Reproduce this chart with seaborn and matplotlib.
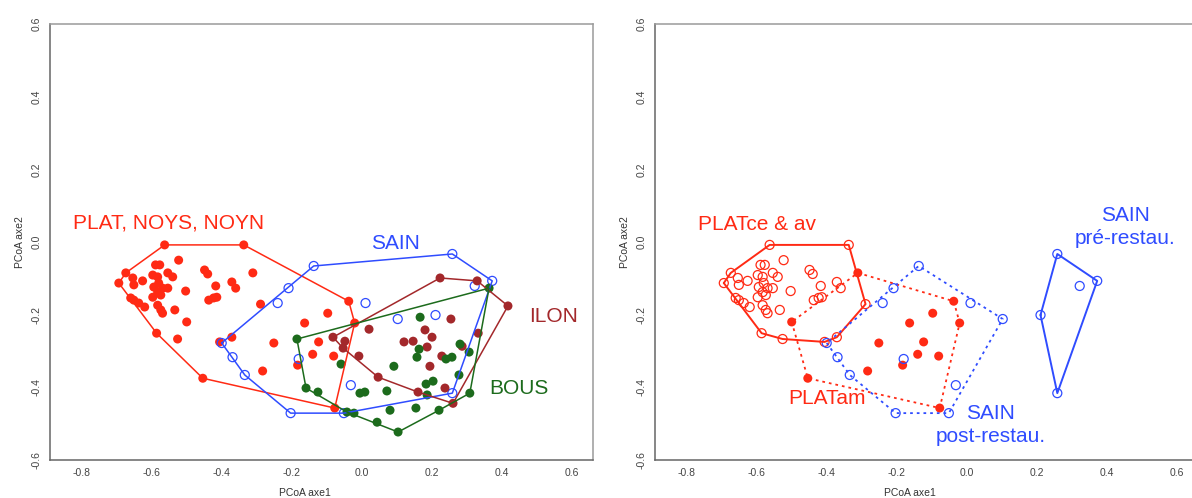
"""
PCoA ordination of sampling stations: convex hulls per group (left) and
restoration state (right).
"""

import numpy as np
import matplotlib

matplotlib.use("Agg")
import matplotlib.pyplot as plt
import seaborn as sns

# PCoA coordinates (axe1, axe2)
plat_ce_av_x = [-0.563, -0.337, -0.289, -0.371, -0.406, -0.526, -0.586, -0.694, -0.674,
                -0.589, -0.577, -0.523, -0.654, -0.626, -0.651, -0.597, -0.583, -0.554,
                -0.540, -0.594, -0.580, -0.569, -0.583, -0.554, -0.597, -0.574, -0.660,
                -0.651, -0.637, -0.620, -0.583, -0.574, -0.569, -0.534, -0.503, -0.449,
                -0.440, -0.417, -0.423, -0.414, -0.437, -0.371, -0.360]
plat_ce_av_y = [-0.008, -0.008, -0.171, -0.262, -0.275, -0.267, -0.251, -0.113, -0.085,
                -0.063, -0.063, -0.050, -0.099, -0.107, -0.118, -0.091, -0.096, -0.085,
                -0.096, -0.124, -0.113, -0.127, -0.138, -0.127, -0.152, -0.146, -0.154,
                -0.160, -0.168, -0.179, -0.174, -0.187, -0.196, -0.187, -0.135, -0.077,
                -0.088, -0.121, -0.154, -0.152, -0.160, -0.110, -0.127]

plat_am_x = [-0.311, -0.500, -0.454, -0.251, -0.283, -0.037, -0.020, -0.097, -0.163,
             -0.123, -0.140, -0.080, -0.183, -0.077]
plat_am_y = [-0.085, -0.220, -0.375, -0.278, -0.355, -0.163, -0.223, -0.196, -0.223,
             -0.275, -0.309, -0.314, -0.339, -0.457]

sain_post_x = [-0.137, -0.209, -0.240, 0.011, 0.103, -0.031, -0.051, -0.203, -0.180,
               -0.400, -0.369, -0.334]
sain_post_y = [-0.066, -0.127, -0.168, -0.168, -0.212, -0.394, -0.471, -0.471, -0.322,
               -0.278, -0.317, -0.366]

sain_pre_x = [0.259, 0.373, 0.323, 0.211, 0.259]
sain_pre_y = [-0.033, -0.107, -0.121, -0.201, -0.416]

ilon_x = [0.224, 0.330, 0.418, 0.261, 0.161, 0.047, -0.082, -0.048, -0.053, -0.008, 0.021,
          0.121, 0.147, 0.181, 0.201, 0.187, 0.255, 0.333, 0.229, 0.195, 0.238, 0.287]
ilon_y = [-0.099, -0.107, -0.176, -0.444, -0.413, -0.372, -0.262, -0.273, -0.292, -0.314,
          -0.240, -0.275, -0.273, -0.242, -0.262, -0.289, -0.212, -0.251, -0.314, -0.342,
          -0.402, -0.287]

bous_x = [-0.185, 0.364, 0.309, 0.221, 0.104, 0.044, -0.042, -0.022, -0.159, -0.125, -0.059,
          0.167, 0.092, 0.164, 0.158, 0.281, 0.307, 0.241, 0.258, 0.278, 0.184, 0.204, 0.187,
          -0.005, 0.009, 0.072, 0.081, 0.155]
bous_y = [-0.267, -0.127, -0.416, -0.463, -0.523, -0.496, -0.468, -0.471, -0.402, -0.413,
          -0.336, -0.207, -0.342, -0.295, -0.317, -0.281, -0.303, -0.322, -0.317, -0.366,
          -0.391, -0.383, -0.421, -0.416, -0.413, -0.410, -0.463, -0.457]

axis_ticks = [-0.8, -0.6, -0.4, -0.2, 0.0, 0.2, 0.4, 0.6]

RED = "#ff2a14"
BLUE = "#2f4cff"
BROWN = "#a3282b"
GREEN = "#1c6b1c"


def convex_hull(x, y):
    """Monotone chain hull, returned closed."""
    pts = sorted(set(zip(x, y)))

    def cross(o, a, b):
        return (a[0] - o[0]) * (b[1] - o[1]) - (a[1] - o[1]) * (b[0] - o[0])

    lower, upper = [], []
    for p in pts:
        while len(lower) >= 2 and cross(lower[-2], lower[-1], p) <= 0:
            lower.pop()
        lower.append(p)
    for p in reversed(pts):
        while len(upper) >= 2 and cross(upper[-2], upper[-1], p) <= 0:
            upper.pop()
        upper.append(p)
    h = lower[:-1] + upper[:-1]
    h.append(h[0])
    return np.array(h)


def draw_group(ax, x, y, color, filled=True, ls="-", lw=1.1):
    if filled:
        sns.scatterplot(x=x, y=y, color=color, s=42, edgecolor="none",
                        linewidth=0, ax=ax, zorder=3)
    else:
        sns.scatterplot(x=x, y=y, color=color, s=42, facecolor="none",
                        edgecolor=color, linewidth=0.9, ax=ax, zorder=3)
    h = convex_hull(x, y)
    sns.lineplot(x=h[:, 0], y=h[:, 1], sort=False, estimator=None, color=color,
                 linewidth=lw, linestyle=ls, ax=ax, zorder=4)


def style_axes(ax):
    ax.set_xlim(-0.8906, 0.661)
    ax.set_ylim(-0.6, 0.6)
    ax.set_xticks(axis_ticks)
    ax.set_yticks(axis_ticks[1:])
    ax.set_xticklabels([f"{t:.1f}" for t in axis_ticks])
    ax.set_yticklabels([f"{t:.1f}" for t in axis_ticks[1:]])
    ax.tick_params(axis="both", length=4, width=0.8, color="#777777",
                   labelsize=7.5, labelcolor="#444444", pad=2)
    ax.tick_params(axis="y", labelrotation=90)
    for lab in ax.get_yticklabels():
        lab.set_va("center")
    for side in ["left", "bottom"]:
        ax.spines[side].set_color("#666666")
        ax.spines[side].set_linewidth(1.1)
    for side in ["top", "right"]:
        ax.spines[side].set_color("#9a9a9a")
        ax.spines[side].set_linewidth(1.1)
    ax.set_xlabel("PCoA axe1", fontsize=7.5, color="#333333", va="center")
    ax.set_ylabel("PCoA axe2", fontsize=7.5, color="#333333", va="center")
    ax.xaxis.set_label_coords(0.47, -0.076)
    ax.yaxis.set_label_coords(-0.055, 0.5)
    ax.grid(False)


sns.set_theme(style="white")
plt.rcParams["font.family"] = ["Liberation Sans", "DejaVu Sans"]
plt.rcParams["axes.unicode_minus"] = False

fig = plt.figure(figsize=(11.92, 4.98), dpi=100)
ax_l = fig.add_axes([50 / 1192, 1 - 460 / 498, 543 / 1192, 436 / 498])
ax_r = fig.add_axes([655 / 1192, 1 - 460 / 498, 543 / 1192, 436 / 498])

# left: stations grouped by river
plat_x = plat_ce_av_x + plat_am_x
plat_y = plat_ce_av_y + plat_am_y
sain_x = sain_post_x + sain_pre_x
sain_y = sain_post_y + sain_pre_y

draw_group(ax_l, plat_x, plat_y, RED, filled=True)
draw_group(ax_l, sain_x, sain_y, BLUE, filled=False)
draw_group(ax_l, ilon_x, ilon_y, BROWN, filled=True)
draw_group(ax_l, bous_x, bous_y, GREEN, filled=True)

lab_kw = dict(fontsize=15, ha="center", va="center")
ax_l.text(-0.552, 0.052, "PLAT, NOYS, NOYN", color=RED, **lab_kw)
ax_l.text(0.098, -0.003, "SAIN", color=BLUE, **lab_kw)
ax_l.text(0.547, -0.204, "ILON", color=BROWN, **lab_kw)
ax_l.text(0.449, -0.402, "BOUS", color=GREEN, **lab_kw)

# right: before / after restoration
draw_group(ax_r, plat_ce_av_x, plat_ce_av_y, RED, filled=False, lw=1.4)
draw_group(ax_r, plat_am_x, plat_am_y, RED, filled=True, ls=(0, (1.5, 2.2)), lw=1.3)
draw_group(ax_r, sain_post_x, sain_post_y, BLUE, filled=False, ls=(0, (1.5, 2.2)), lw=1.3)
draw_group(ax_r, sain_pre_x, sain_pre_y, BLUE, filled=False, lw=1.4)

ax_r.text(-0.600, 0.047, "PLATce & av", color=RED, **lab_kw)
ax_r.text(-0.400, -0.430, "PLATam", color=RED, **lab_kw)
ax_r.text(0.069, -0.504, "SAIN\npost-restau.", color=BLUE, linespacing=1.25, **lab_kw)
ax_r.text(0.454, 0.042, "SAIN\npré-restau.", color=BLUE, linespacing=1.25, **lab_kw)

for ax in (ax_l, ax_r):
    style_axes(ax)

fig.savefig("out.png", dpi=100)
